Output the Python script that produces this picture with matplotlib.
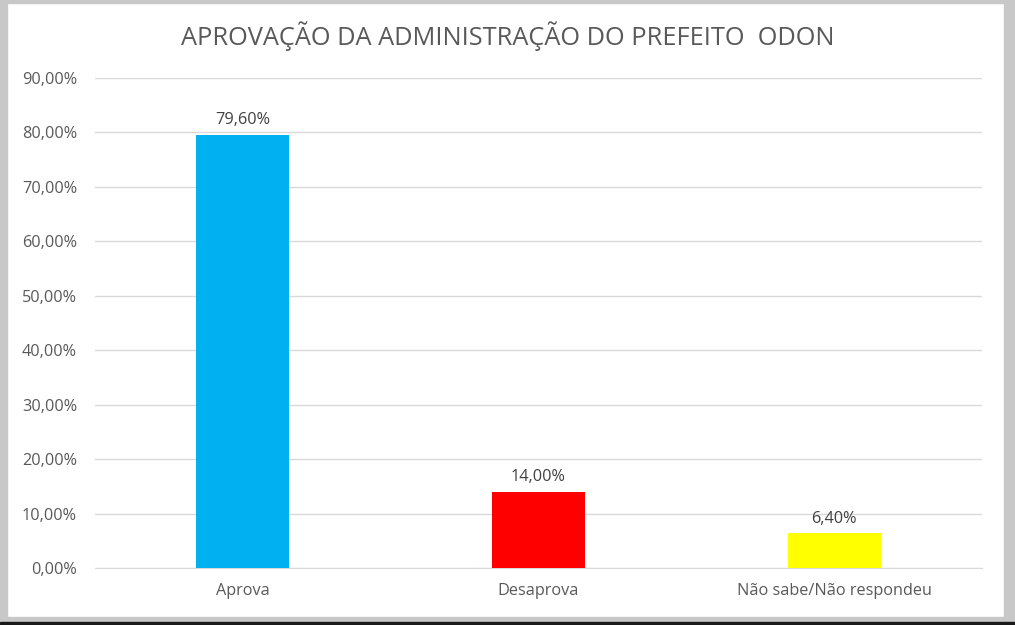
import matplotlib.pyplot as plt
from matplotlib.patches import Rectangle
from matplotlib.ticker import FuncFormatter

categories = ['Aprova', 'Desaprova', 'Não sabe/Não respondeu']
values = [0.796, 0.14, 0.064]
colors = ['#00B0F0', '#FF0000', '#FFFF00']
title = 'APROVAÇÃO DA ADMINISTRAÇÃO DO PREFEITO  ODON'

txt = '#595959'
plt.rcParams['font.family'] = ['Open Sans', 'DejaVu Sans']

W, H = 1015, 625
fig = plt.figure(figsize=(W / 100, H / 100), dpi=100)

# frame around the picture (screenshot borders)
fig.patches.append(Rectangle((0, 0), 7 / W, 1, transform=fig.transFigure, color='#c8c8c8', zorder=0))
fig.patches.append(Rectangle((1004 / W, 0), 11 / W, 1, transform=fig.transFigure, color='#c8c8c8', zorder=0))
fig.patches.append(Rectangle((0, 1 - 3 / H), 1, 3 / H, transform=fig.transFigure, color='#c8c8c8', zorder=0))
fig.patches.append(Rectangle((0, 0), 1, 8 / H, transform=fig.transFigure, color='#c8c8c8', zorder=0))
fig.patches.append(Rectangle((0, 0), 1, 3 / H, transform=fig.transFigure, color='#1a1a1a', zorder=0))

ax = fig.add_axes([95 / W, 1 - 568 / H, (982 - 95) / W, (568 - 78) / H])
x = range(len(categories))
bars = ax.bar(x, values, width=0.315, color=colors, zorder=3)

for b, v in zip(bars, values):
    ax.text(b.get_x() + b.get_width() / 2, v + 0.012, f'{v * 100:.2f}%'.replace('.', ','),
            ha='center', va='bottom', fontsize=11.7, color='#404040')

ax.set_xlim(-0.5, len(categories) - 0.5)
ax.set_ylim(0, 0.9)
ax.set_yticks([i / 10 for i in range(10)])
ax.yaxis.set_major_formatter(FuncFormatter(lambda v, p: f'{v * 100:.2f}%'.replace('.', ',')))
ax.set_xticks(list(x))
ax.set_xticklabels(categories)
ax.tick_params(length=0, colors=txt, labelsize=11.7)
ax.tick_params(axis='y', pad=13)
ax.tick_params(axis='x', pad=11)
ax.grid(axis='y', color='#d9d9d9', linewidth=1, zorder=0)
for s in ['top', 'right', 'left']:
    ax.spines[s].set_visible(False)
ax.spines['bottom'].set_color('#d9d9d9')

fig.text(0.5 + 0 / W, 1 - 36 / H, title, ha='center', va='center', fontsize=18.3, color=txt)

fig.savefig('out.png', dpi=100)
